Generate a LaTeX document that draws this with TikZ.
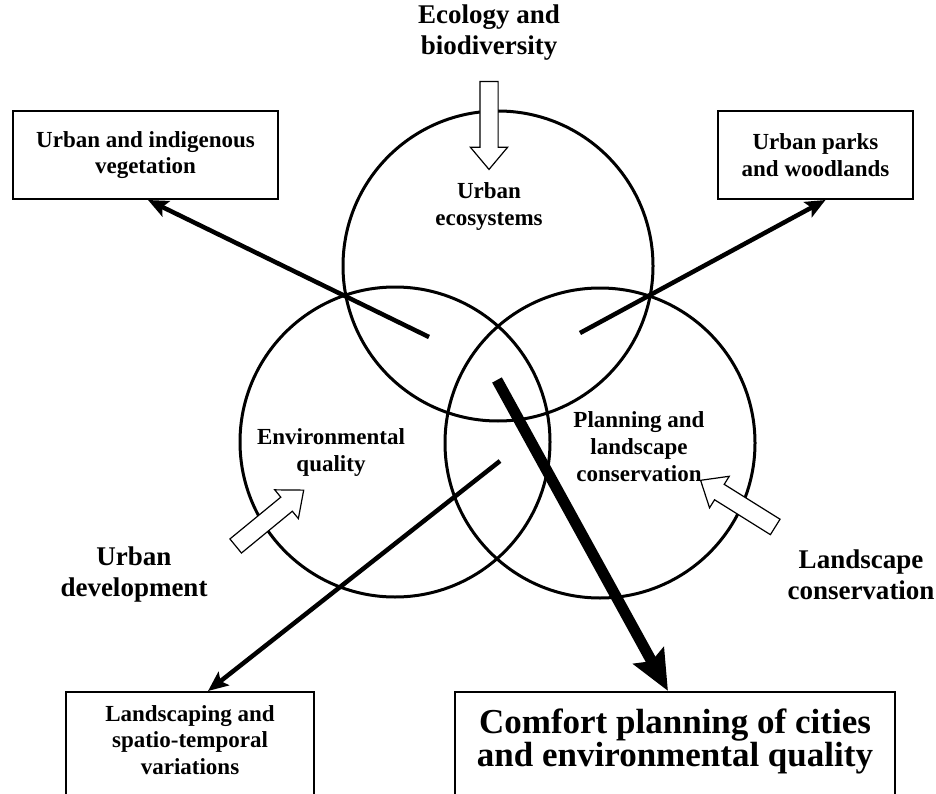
\documentclass[tikz,border=0pt]{standalone}
\usepackage{fontspec}
\setmainfont{Liberation Serif}
\usetikzlibrary{arrows.meta,shapes.arrows,calc}

\begin{document}
\begin{tikzpicture}[
            x = 1pt, y = -1pt, % pixel grid, y downwards
            > = {Stealth[length=20pt,width=17pt,inset=4pt]}, % arrow head style
            ring/.style = {circle, draw=black, line width=3pt, minimum size=310pt, inner sep=0pt},
            topic/.style = {align=center, font=\fontsize{27}{31}\selectfont\bfseries},
            inner/.style = {align=center, font=\fontsize{23}{27}\selectfont\bfseries},
            outbox/.style = {draw=black, line width=2pt, align=center, font=\fontsize{23}{26.5}\selectfont\bfseries},
            flow/.style = {->, line width=4.5pt},
            inflow/.style = {single arrow, draw=black, fill=white, line width=1.2pt,
                inner xsep=0pt, inner ysep=8.5pt, single arrow head extend=9.5pt,
                single arrow tip angle=80, minimum height=88pt}
        ]
\useasboundingbox (0,0) rectangle (936,794);

\node[ring] (eco) at (498,266) {};
\node[ring] (env) at (395,442) {};
\node[ring] (plan) at (600,443) {};

\node[inflow, rotate=-90] (ecoin) at (489,120) {};
\node[inflow, rotate=39.4] (devin) at (265.5,521.5) {};
\node[inflow, rotate=148] (consin) at (742.5,506.5) {};

\node[topic] (ecology) at (489,33) {Ecology and\\biodiversity};
\node[topic] (devlab) at (134,575) {Urban\\development};
\node[topic] (conslab) at (861,575) {Landscape\\conservation};

\node[inner] (ecolab) at (489,207) {Urban\\ecosystems};
\node[inner] (envlab) at (331,452) {Environmental\\quality};
\node[inner] (planlab) at (639,447) {Planning and\\landscape\\conservation};

\node[outbox, minimum width=265pt, minimum height=88pt] (vegbox) at (145.5,155) {Urban and indigenous\\vegetation};
\node[outbox, minimum width=195pt, minimum height=88pt] (parkbox) at (815.5,155) {Urban parks\\and woodlands};
\node[outbox, anchor=north, minimum width=248pt, inner ysep=13.5pt, text depth=60pt] (landbox) at (190,691) {Landscaping and\\spatio-temporal\\variations};
\node[outbox, anchor=north, minimum width=440pt, inner ysep=17pt, text depth=60pt,
      font=\fontsize{35}{33}\selectfont\bfseries] (comfbox) at (675,691) {Comfort planning of cities\\and environmental quality};

\coordinate (vegsrc) at (429,337);
\coordinate (parksrc) at (580,333);
\coordinate (landsrc) at (500,461);
\coordinate (comfsrc) at (497,380);

 \draw[flow] (vegsrc) -- ($(vegbox.south)+(2.5,0)$);
 \draw[flow] (parksrc) -- ($(parkbox.south)+(10,0)$);
 \draw[flow] (landsrc) -- ($(landbox.north)+(18,0)$);
 \draw[line width=11pt, -{Stealth[length=40pt,width=34pt,inset=6pt]}] (comfsrc) -- ($(comfbox.north)+(-7,0)$);
\end{tikzpicture}
\end{document}
